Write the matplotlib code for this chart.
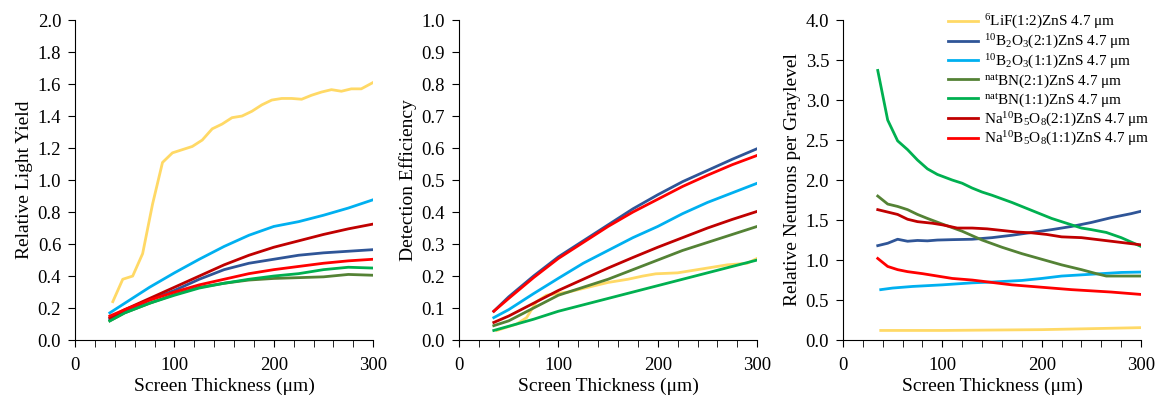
import matplotlib
matplotlib.use('Agg')
import matplotlib.pyplot as plt
from matplotlib.ticker import MultipleLocator, FormatStrFormatter

plt.rcParams['font.family'] = ['Liberation Serif', 'DejaVu Serif']
plt.rcParams['mathtext.fontset'] = 'custom'
plt.rcParams['mathtext.rm'] = 'Liberation Serif'
plt.rcParams['mathtext.it'] = 'Liberation Serif:italic'

# series labels and colours
labels = [r'$^{6}$LiF(1:2)ZnS 4.7 μm',
          r'$^{10}$B$_{2}$O$_{3}$(2:1)ZnS 4.7 μm',
          r'$^{10}$B$_{2}$O$_{3}$(1:1)ZnS 4.7 μm',
          r'$^{\mathrm{nat}}$BN(2:1)ZnS 4.7 μm',
          r'$^{\mathrm{nat}}$BN(1:1)ZnS 4.7 μm',
          r'Na$^{10}$B$_{5}$O$_{8}$(2:1)ZnS 4.7 μm',
          r'Na$^{10}$B$_{5}$O$_{8}$(1:1)ZnS 4.7 μm']
colors = ['#FFD966', '#2F5597', '#00B0F0', '#548235', '#00B050', '#C00000', '#FF0000']

# --- relative light yield ---
ly_lif_x = [38, 48, 58, 68, 78, 88, 98, 108, 118, 128, 138, 148, 158, 168, 178, 188, 198, 208, 218, 228, 238, 248, 258, 268, 278, 288, 300]
ly_lif_y = [0.24, 0.38, 0.40, 0.54, 0.85, 1.11, 1.17, 1.19, 1.21, 1.25, 1.32, 1.35, 1.39, 1.40, 1.43, 1.47, 1.50, 1.51, 1.51, 1.505, 1.53, 1.55, 1.565, 1.555, 1.57, 1.57, 1.61]
ly_x = [35, 50, 75, 100, 125, 150, 175, 200, 225, 250, 275, 300]
ly_b2o3_21 = [0.13, 0.18, 0.25, 0.31, 0.38, 0.44, 0.48, 0.505, 0.53, 0.545, 0.555, 0.565]
ly_b2o3_11 = [0.17, 0.23, 0.33, 0.42, 0.505, 0.585, 0.655, 0.71, 0.74, 0.78, 0.825, 0.877]
ly_bn_21 = [0.12, 0.17, 0.23, 0.285, 0.33, 0.355, 0.375, 0.385, 0.39, 0.395, 0.41, 0.405]
ly_bn_11 = [0.12, 0.17, 0.23, 0.28, 0.325, 0.355, 0.38, 0.40, 0.415, 0.44, 0.455, 0.45]
ly_na_21 = [0.14, 0.19, 0.26, 0.33, 0.40, 0.47, 0.53, 0.58, 0.62, 0.66, 0.695, 0.725]
ly_na_11 = [0.15, 0.19, 0.25, 0.30, 0.345, 0.38, 0.415, 0.44, 0.46, 0.48, 0.495, 0.505]

# --- detection efficiency ---
de_lif_x = [38, 48, 58, 68, 78, 88, 98, 110, 130, 150, 170, 185, 198, 220, 230, 250, 270, 290, 300]
de_lif_y = [0.03, 0.04, 0.05, 0.07, 0.12, 0.14, 0.145, 0.15, 0.165, 0.18, 0.19, 0.20, 0.207, 0.21, 0.215, 0.225, 0.235, 0.24, 0.255]
de_x = [35, 50, 75, 100, 125, 150, 175, 200, 225, 250, 275, 300]
de_b2o3_21 = [0.09, 0.135, 0.20, 0.26, 0.31, 0.36, 0.41, 0.454, 0.495, 0.53, 0.565, 0.598]
de_b2o3_11 = [0.07, 0.095, 0.145, 0.193, 0.24, 0.28, 0.32, 0.355, 0.395, 0.43, 0.46, 0.49]
de_bn_21 = [0.045, 0.06, 0.10, 0.14, 0.165, 0.19, 0.22, 0.25, 0.28, 0.305, 0.33, 0.355]
de_bn_11 = [0.03, 0.043, 0.065, 0.09, 0.11, 0.13, 0.15, 0.17, 0.19, 0.21, 0.23, 0.25]
de_na_21 = [0.055, 0.075, 0.115, 0.155, 0.19, 0.225, 0.258, 0.29, 0.32, 0.35, 0.377, 0.402]
de_na_11 = [0.09, 0.13, 0.195, 0.255, 0.305, 0.355, 0.40, 0.44, 0.48, 0.515, 0.548, 0.577]

# --- relative neutrons per graylevel ---
nc_lif_x = [38, 100, 200, 300]
nc_lif_y = [0.12, 0.12, 0.13, 0.155]
nc_b2o3_21_x = [35, 45, 55, 65, 75, 85, 95, 110, 130, 150, 170, 190, 210, 230, 250, 270, 290, 300]
nc_b2o3_21_y = [1.18, 1.21, 1.26, 1.235, 1.245, 1.24, 1.25, 1.255, 1.26, 1.28, 1.31, 1.345, 1.38, 1.42, 1.47, 1.53, 1.58, 1.61]
nc_b2o3_11_x = [38, 50, 70, 100, 130, 150, 180, 200, 220, 240, 260, 280, 300]
nc_b2o3_11_y = [0.63, 0.65, 0.67, 0.69, 0.715, 0.725, 0.745, 0.77, 0.80, 0.815, 0.83, 0.845, 0.85]
nc_bn_21_x = [35, 45, 55, 65, 75, 85, 100, 120, 140, 160, 180, 200, 220, 240, 255, 265, 300]
nc_bn_21_y = [1.80, 1.70, 1.67, 1.63, 1.57, 1.52, 1.45, 1.36, 1.25, 1.16, 1.08, 1.01, 0.94, 0.88, 0.83, 0.80, 0.80]
nc_bn_11_x = [35, 45, 55, 65, 75, 85, 95, 110, 120, 130, 140, 150, 170, 190, 200, 210, 230, 240, 250, 265, 280, 300]
nc_bn_11_y = [3.37, 2.75, 2.49, 2.38, 2.25, 2.14, 2.07, 2.00, 1.96, 1.90, 1.85, 1.81, 1.72, 1.62, 1.57, 1.52, 1.44, 1.40, 1.38, 1.345, 1.28, 1.17]
nc_na_21_x = [35, 45, 55, 65, 75, 90, 100, 115, 130, 145, 160, 175, 190, 205, 220, 240, 260, 280, 300]
nc_na_21_y = [1.63, 1.60, 1.57, 1.51, 1.48, 1.46, 1.44, 1.40, 1.40, 1.39, 1.37, 1.35, 1.34, 1.32, 1.29, 1.28, 1.25, 1.22, 1.19]
nc_na_11_x = [35, 45, 55, 65, 80, 95, 110, 130, 150, 170, 190, 210, 230, 250, 270, 300]
nc_na_11_y = [1.02, 0.92, 0.88, 0.855, 0.83, 0.80, 0.77, 0.75, 0.72, 0.69, 0.67, 0.65, 0.63, 0.615, 0.60, 0.57]

panels = [
    ('Relative Light Yield', 2.0, 0.2,
     [(ly_lif_x, ly_lif_y), (ly_x, ly_b2o3_21), (ly_x, ly_b2o3_11), (ly_x, ly_bn_21),
      (ly_x, ly_bn_11), (ly_x, ly_na_21), (ly_x, ly_na_11)]),
    ('Detection Efficiency', 1.0, 0.1,
     [(de_lif_x, de_lif_y), (de_x, de_b2o3_21), (de_x, de_b2o3_11), (de_x, de_bn_21),
      (de_x, de_bn_11), (de_x, de_na_21), (de_x, de_na_11)]),
    ('Relative Neutrons per Graylevel', 4.0, 0.5,
     [(nc_lif_x, nc_lif_y), (nc_b2o3_21_x, nc_b2o3_21_y), (nc_b2o3_11_x, nc_b2o3_11_y),
      (nc_bn_21_x, nc_bn_21_y), (nc_bn_11_x, nc_bn_11_y), (nc_na_21_x, nc_na_21_y),
      (nc_na_11_x, nc_na_11_y)]),
]

fig = plt.figure(figsize=(11.6, 4.01), dpi=100)
lefts = [0.0647, 0.3957, 0.7267]

for left, (ylabel, ymax, ystep, series) in zip(lefts, panels):
    ax = fig.add_axes([left, 0.152, 0.257, 0.798])
    for (x, y), c, lab in zip(series, colors, labels):
        ax.plot(x, y, color=c, lw=2, label=lab)
    ax.set_xlim(0, 300)
    ax.set_ylim(0, ymax)
    ax.xaxis.set_major_locator(MultipleLocator(100))
    ax.xaxis.set_minor_locator(MultipleLocator(20))
    ax.yaxis.set_major_locator(MultipleLocator(ystep))
    ax.yaxis.set_major_formatter(FormatStrFormatter('%.1f'))
    ax.spines['top'].set_visible(False)
    ax.spines['right'].set_visible(False)
    ax.tick_params(which='both', direction='out', labelsize=13.5, length=5)
    ax.tick_params(axis='x', which='major', pad=7)
    ax.tick_params(axis='y', which='major', pad=5)
    ax.set_xlabel('Screen Thickness (μm)', fontsize=14, labelpad=3)
    ax.set_ylabel(ylabel, fontsize=14, labelpad=3)
    if ymax == 4.0:
        ax.legend(loc='upper left', bbox_to_anchor=(0.352, 1.022), frameon=False,
                  fontsize=11, handlelength=2.0, handletextpad=0.35,
                  labelspacing=0.1, borderpad=0, borderaxespad=0)

plt.savefig('out.png', dpi=100)
